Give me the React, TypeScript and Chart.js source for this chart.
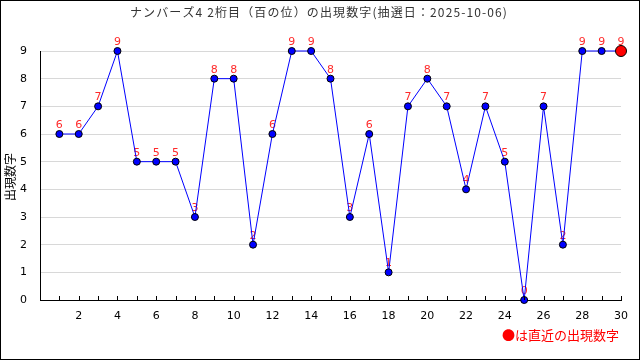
import React, { useEffect, useRef } from 'react';
import { Chart, registerables } from 'chart.js';

Chart.register(...registerables);

const draws = [1, 2, 3, 4, 5, 6, 7, 8, 9, 10, 11, 12, 13, 14, 15, 16, 17, 18, 19, 20, 21, 22, 23, 24, 25, 26, 27, 28, 29, 30];
const values = [6, 6, 7, 9, 5, 5, 5, 3, 8, 8, 2, 6, 9, 9, 8, 3, 6, 1, 7, 8, 7, 4, 7, 5, 0, 7, 2, 9, 9, 9];
const xMin = 0;
const xMax = 30;
const yMin = 0;
const yMax = 9;
const titleText = 'ナンバーズ4 2桁目（百の位）の出現数字(抽選日：2025-10-06)';
const yTitleText = '出現数字';
const legendText = '●は直近の出現数字';

const JP = "'Noto Sans CJK JP', sans-serif";
const NUM = "'DejaVu Sans', 'Noto Sans CJK JP', sans-serif";

const decor = {
  id: 'decor',
  beforeDraw(chart: any) {
    const ctx = chart.ctx;
    ctx.save();
    ctx.fillStyle = '#ffffff';
    ctx.fillRect(0, 0, chart.width, chart.height);
    ctx.restore();
  },
  beforeDatasetsDraw(chart: any) {
    const ctx = chart.ctx;
    const meta = chart.getDatasetMeta(0);
    ctx.save();
    ctx.fillStyle = '#ff2a2a';
    ctx.font = '11px ' + NUM;
    ctx.textAlign = 'center';
    ctx.textBaseline = 'alphabetic';
    meta.data.forEach((pt: any, i: number) => {
      ctx.fillText(String(values[i]), pt.x, pt.y - 6);
    });
    ctx.restore();
  },
  afterDraw(chart: any) {
    const ctx = chart.ctx;
    const xs = chart.scales.x;
    const area = chart.chartArea;
    ctx.save();
    // minor tick marks (inward)
    ctx.strokeStyle = '#000000';
    ctx.lineWidth = 1;
    ctx.beginPath();
    draws.forEach((d) => {
      const px = Math.round(xs.getPixelForValue(d)) + 0.5;
      ctx.moveTo(px, area.bottom);
      ctx.lineTo(px, area.bottom - 4);
    });
    ctx.stroke();
    // title
    ctx.save();
    ctx.fillStyle = '#333333';
    ctx.font = '12px ' + JP;
    ctx.textAlign = 'left';
    ctx.textBaseline = 'middle';
    const w = ctx.measureText(titleText).width;
    const target = 378;
    const n = Array.from(titleText).length;
    if (w < target && 'letterSpacing' in ctx) {
      (ctx as any).letterSpacing = ((target - w) / n).toFixed(2) + 'px';
    }
    ctx.fillText(titleText, 130, 12);
    ctx.restore();
    // y title
    ctx.save();
    ctx.translate(10, 177);
    ctx.rotate(-Math.PI / 2);
    ctx.fillStyle = '#000000';
    ctx.font = '12px ' + JP;
    ctx.textAlign = 'center';
    ctx.textBaseline = 'middle';
    ctx.fillText(yTitleText, 0, 0);
    ctx.restore();
    // legend
    ctx.fillStyle = '#ff0000';
    ctx.font = '13px ' + JP;
    ctx.textAlign = 'right';
    ctx.textBaseline = 'middle';
    ctx.fillText(legendText, 619, 335);
    // border
    ctx.strokeStyle = '#000000';
    ctx.strokeRect(0.5, 0.5, chart.width - 1, chart.height - 1);
    ctx.restore();
  },
};

export default function App() {
  const ref = useRef<HTMLCanvasElement | null>(null);
  useEffect(() => {
    if (!ref.current) return;
    const last = values.length - 1;
    const chart = new Chart(ref.current, {
      type: 'line',
      data: {
        datasets: [
          {
            data: draws.map((d, i) => ({ x: d, y: values[i] })),
            borderColor: '#0000ff',
            borderWidth: 1,
            tension: 0,
            fill: false,
            clip: false as any,
            pointBackgroundColor: values.map((_, i) => (i === last ? '#ff0000' : '#0000ff')),
            pointBorderColor: '#000000',
            pointBorderWidth: 1,
            pointRadius: values.map((_, i) => (i === last ? 5.5 : 3.5)),
            pointHoverRadius: values.map((_, i) => (i === last ? 5.5 : 3.5)),
          },
        ],
      },
      options: {
        animation: false,
        responsive: false,
        maintainAspectRatio: false,
        events: [],
        layout: { padding: { top: 51, right: 19, bottom: 0, left: 0 } },
        plugins: {
          legend: { display: false },
          title: { display: false },
          tooltip: { enabled: false },
        },
        scales: {
          x: {
            type: 'linear',
            min: xMin,
            max: xMax,
            afterFit: (s: any) => {
              s.height = 60;
            },
            grid: { display: false },
            border: { display: true, color: '#000000', width: 1 },
            ticks: {
              stepSize: 1,
              autoSkip: false,
              maxRotation: 0,
              padding: 2,
              color: '#000000',
              font: { family: NUM, size: 11 },
              callback: (v: any) => (v > 0 && v % 2 === 0 ? String(v) : ''),
            },
          },
          y: {
            type: 'linear',
            min: yMin,
            max: yMax,
            afterFit: (s: any) => {
              s.width = 40;
            },
            grid: { color: '#d8d8d8', drawTicks: false, lineWidth: 1 },
            border: { display: true, color: '#000000', width: 1 },
            ticks: {
              stepSize: 1,
              padding: 13,
              color: '#000000',
              font: { family: NUM, size: 11 },
            },
          },
        },
      },
      plugins: [decor],
    });
    return () => chart.destroy();
  }, []);
  return (
    <div style={{ position: 'fixed', left: 0, top: 0, width: 640, height: 360, background: '#fff' }}>
      <canvas ref={ref} width={640} height={360} style={{ display: 'block', width: 640, height: 360 }} />
    </div>
  );
}
